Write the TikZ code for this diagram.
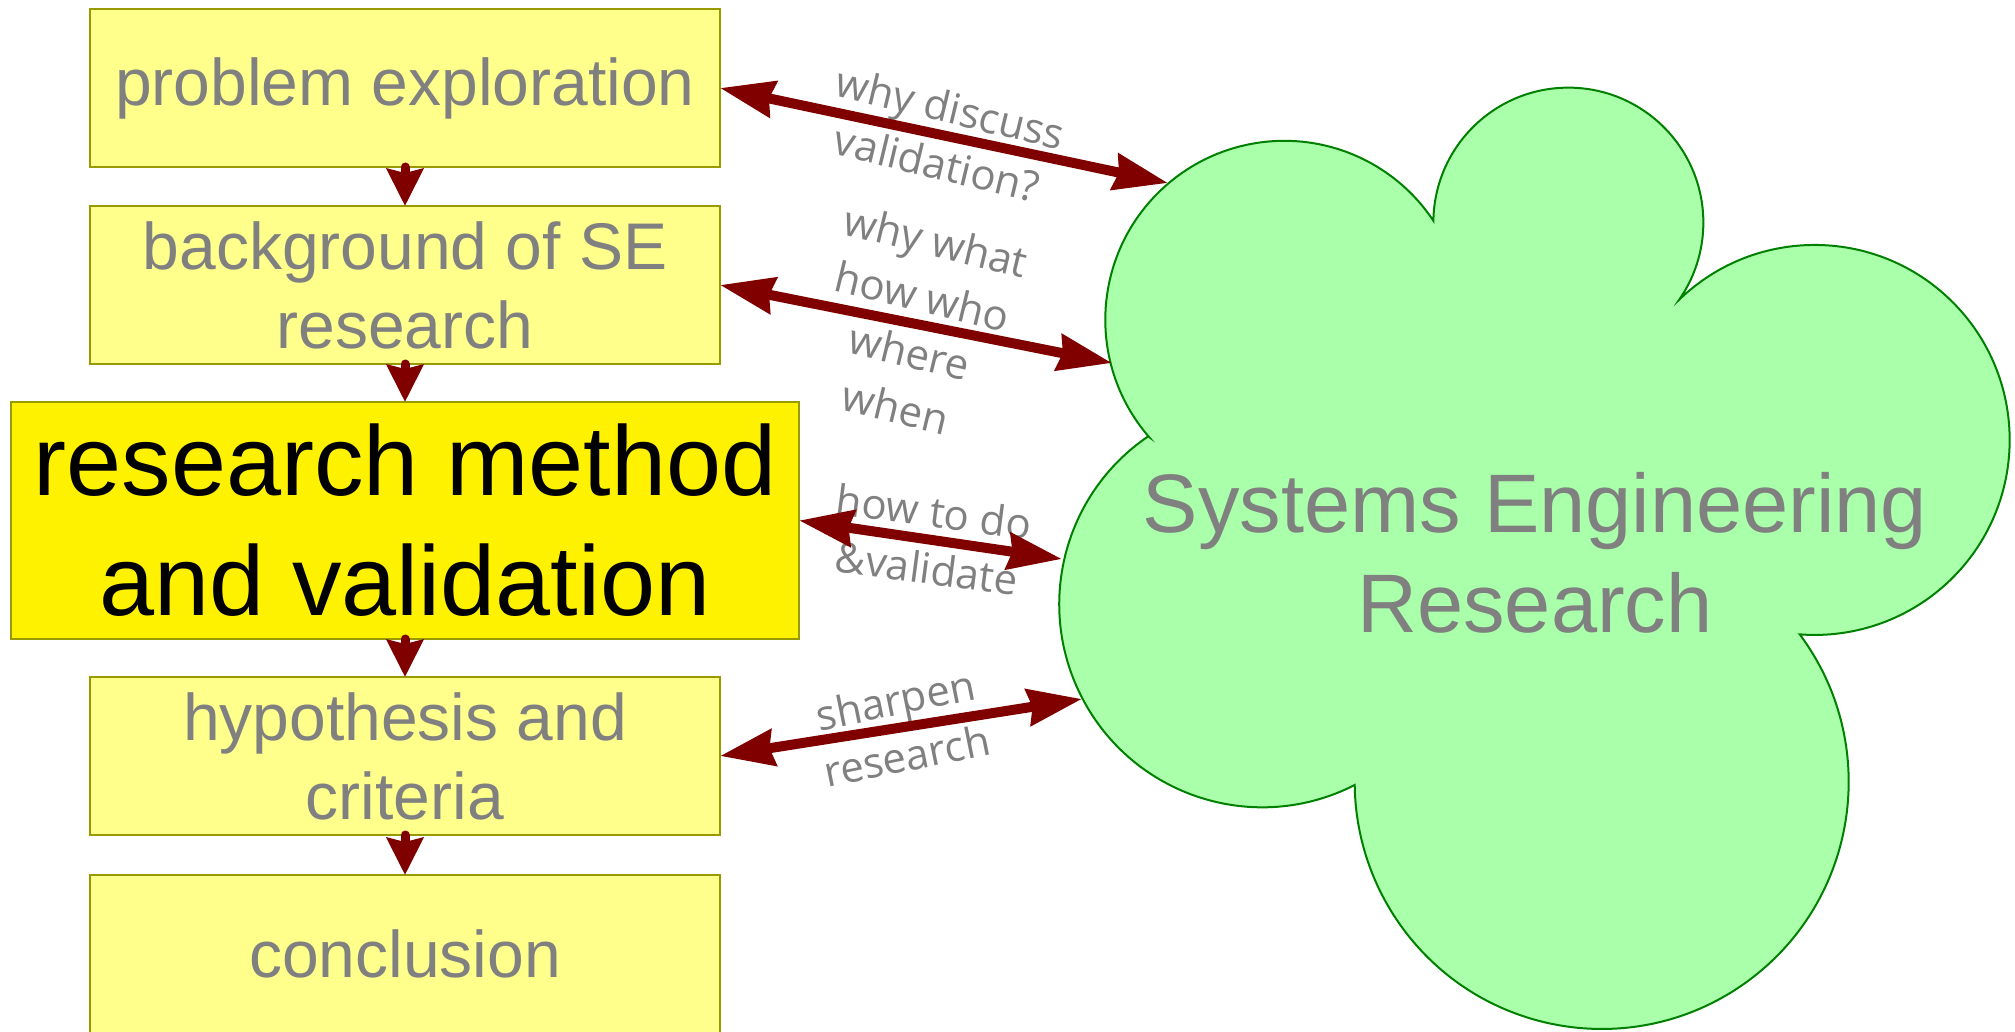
\documentclass[tikz,border=0pt]{standalone}
\usepackage{fontspec}
\setmainfont{Liberation Sans}
\newfontfamily\lblfont{Open Sans}
\usetikzlibrary{positioning}
\usetikzlibrary{arrows.meta}

\definecolor{paleyellow}{HTML}{FFFF8C}
\definecolor{boxline}{HTML}{999900}
\definecolor{arrowred}{HTML}{800000}
\definecolor{cloudfill}{HTML}{AAFFAA}
\definecolor{cloudline}{HTML}{008000}
\definecolor{textgray}{HTML}{808080}

\begin{document}
\begin{tikzpicture}[x=0.5pt, y=0.5pt,
    stepbox/.style = {draw=boxline, fill=paleyellow, line width=1.2pt, outer sep=0pt, inner sep=0pt,
        minimum width=315pt, minimum height=79pt, align=center, text=textgray,
        font=\fontsize{33}{39.5}\selectfont},
    keybox/.style = {stepbox, fill=yellow, minimum width=394pt, minimum height=118.5pt, text=black,
        font=\fontsize{49.5}{60}\selectfont},
    flow/.style = {draw=arrowred, line width=4.5pt, line cap=round,
        >={Stealth[length=18.5pt, width=18pt, inset=2pt]}, ->},
    link/.style = {draw=arrowred, line width=5pt,
        >={Stealth[length=27pt, width=18pt, inset=2pt]}, <->},
    lbl/.style = {align=center, text=textgray, inner sep=0pt,
        font=\lblfont\fontsize{21}{28.5}\selectfont}]
    \useasboundingbox (0,0) rectangle (2015,-1032);

    % cloud
    \draw[draw=cloudline, fill=cloudfill, line width=1pt] (1149,-437)
        arc[start angle=220.9, end angle=33.6, radius=89.5pt]
        arc[start angle=179.2, end angle=-34.8, radius=67.5pt]
        arc[start angle=134, end angle=-94.4, radius=97.5pt]
        arc[start angle=36.7, end angle=-179.3, radius=123.5pt]
        arc[start angle=-62.9, end angle=-235.8, radius=101.5pt] -- cycle;
    \node[align=center, text=textgray, font=\fontsize{41.5}{50}\selectfont] (SE) at (1535,-553)
        {Systems Engineering\\Research};
    \coordinate (c1) at (1168,-183);
    \coordinate (c2) at (1112,-363);
    \coordinate (c3) at (1062,-559);
    \coordinate (c4) at (1082,-699);

    % steps
    \node[stepbox] (P) at (405,-88) {problem exploration};
    \node[stepbox] (B) [below=19.5pt of P] {background of SE\\research};
    \node[keybox] (R) [below=19pt of B] {research method\\and validation};
    \node[stepbox] (H) [below=19pt of R] {hypothesis and\\criteria};
    \node[stepbox] (C) [below=20pt of H] {conclusion};

    \draw[flow] (P) -- (B);
    \draw[flow] (B) -- (R);
    \draw[flow] (R) -- (H);
    \draw[flow] (H) -- (C);

    % labels
    \path (P.east) -- (c1) node[lbl, midway, rotate=-13.5] {why discuss\\validation?};
    \path (B.east) -- (c2) node[lbl, midway, rotate=-13.5] {why what\\how who\\where\\when};
    \path (R.east) -- (c3) node[lbl, midway, rotate=-7.5] {how to do\\\&validate};
    \path (H.east) -- (c4) node[lbl, midway, rotate=11.5] {sharpen\\research};

    \draw[link] (P.east) -- (c1);
    \draw[link] (B.east) -- (c2);
    \draw[link] (R.east) -- (c3);
    \draw[link] (H.east) -- (c4);
\end{tikzpicture}
\end{document}
